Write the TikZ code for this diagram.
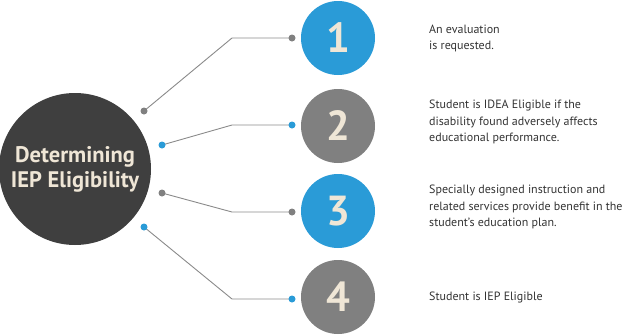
\documentclass[tikz,border=0pt]{standalone}
\usepackage{fontspec}
\setmainfont{PT Sans}
\definecolor{cblue}{HTML}{2A9BD7}
\definecolor{cgrey}{HTML}{808080}
\definecolor{cdark}{HTML}{3F3F3F}
\definecolor{ccream}{HTML}{EFE6D6}
\definecolor{cline}{HTML}{8A8A8A}
\definecolor{ctext}{HTML}{333333}
\begin{document}
\begin{tikzpicture}[x=1pt,y=-1pt,
  bigc/.style={circle,fill=cdark,minimum size=152pt,inner sep=0pt,text=ccream,align=center,font=\bfseries\fontsize{22.5}{25}\selectfont},
  numc/.style={circle,fill=#1,minimum size=74pt,inner sep=0pt,text=ccream,font=\bfseries\fontsize{42}{42}\selectfont},
  dotn/.style={circle,fill=#1,minimum size=7pt,inner sep=0pt},
  conn/.style={draw=cline,line width=0.9pt},
  desc/.style={anchor=west,align=left,inner sep=0pt,text=ctext,font=\fontsize{12}{16.5}\selectfont}]
\useasboundingbox (0,0) rectangle (624,335);
\node[bigc] (c) at (75,169) {Determining\\IEP Eligibility};
\node[numc=cblue] (n1) at (338,38) {1};
\node[numc=cgrey] (n2) at (338,126) {2};
\node[numc=cblue] (n3) at (338,211) {3};
\node[numc=cgrey] (n4) at (338,297) {4};
\coordinate (e1) at (232,38);
\coordinate (e2) at (232,125);
\coordinate (e3) at (232,212);
\coordinate (e4) at (232,299);
\coordinate (p1) at (144,111);
\coordinate (q1) at (292,38);
\coordinate (p2) at (162,145);
\coordinate (q2) at (292,125);
\coordinate (p3) at (162,193);
\coordinate (q3) at (292,212);
\coordinate (p4) at (144,227);
\coordinate (q4) at (292,299);
\draw[conn] (p1) -- (e1) -- (q1);
\draw[conn] (p2) -- (e2) -- (q2);
\draw[conn] (p3) -- (e3) -- (q3);
\draw[conn] (p4) -- (e4) -- (q4);
\node[dotn=cgrey] (a1) at (p1) {};
\node[dotn=cgrey] (b1) at (q1) {};
\node[dotn=cblue] (a2) at (p2) {};
\node[dotn=cblue] (b2) at (q2) {};
\node[dotn=cgrey] (a3) at (p3) {};
\node[dotn=cgrey] (b3) at (q3) {};
\node[dotn=cblue] (a4) at (p4) {};
\node[dotn=cblue] (b4) at (q4) {};
\node[desc] (t1) at (429,38.5) {An evaluation\\is requested.};
\node[desc] (t2) at (429,122) {Student is IDEA Eligible if the\\disability found adversely affects\\educational performance.};
\node[desc] (t3) at (429,207) {Specially designed instruction and\\related services provide benefit in the\\student’s education plan.};
\node[desc] (t4) at (429,297) {Student is IEP Eligible};
\end{tikzpicture}
\end{document}
